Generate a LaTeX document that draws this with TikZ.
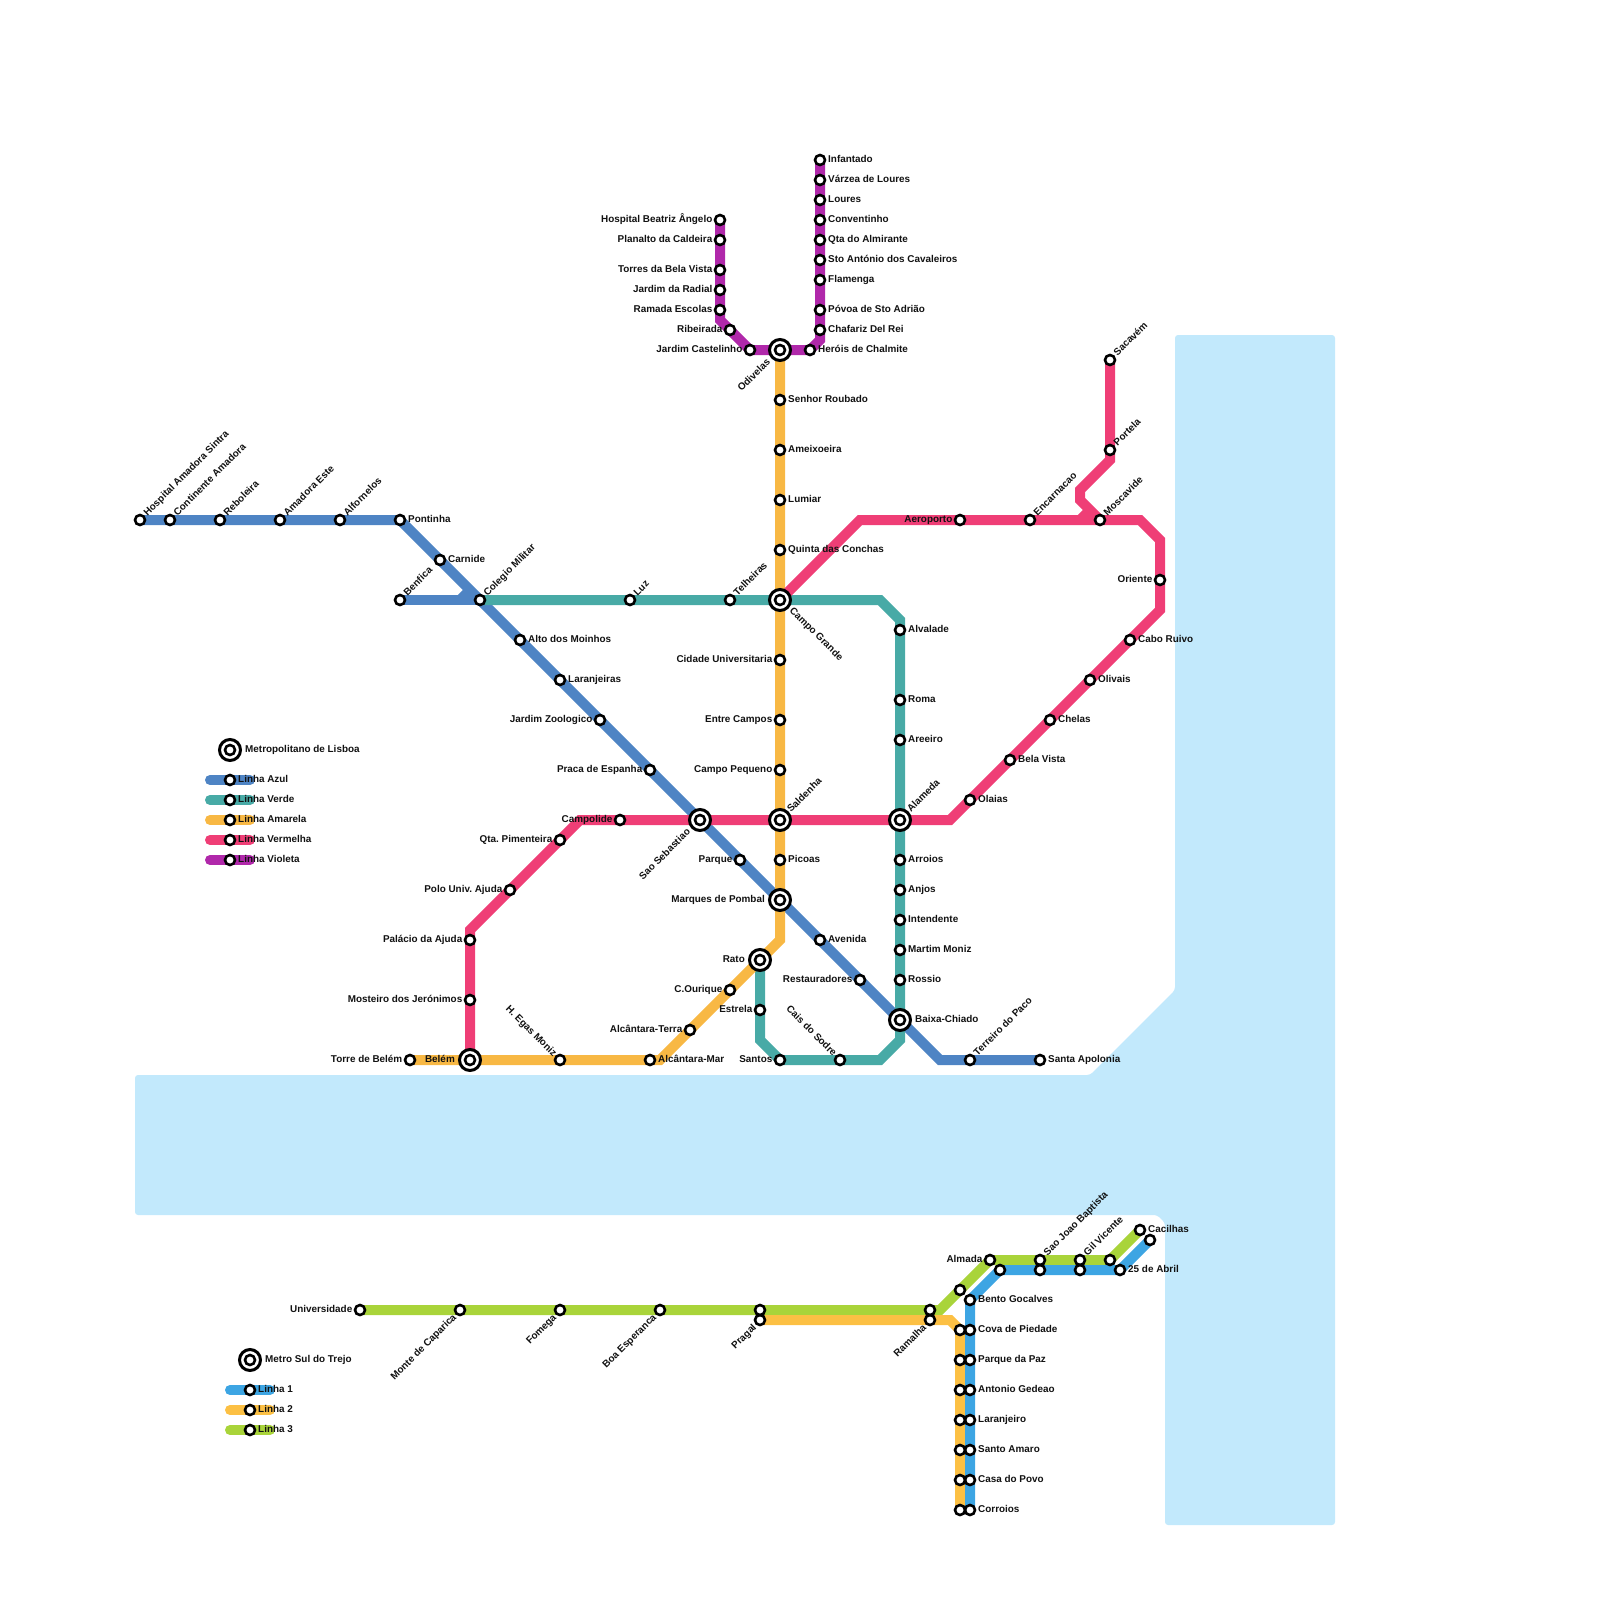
\documentclass[tikz,border=0pt]{standalone}
\usepackage{fontspec}
\setmainfont{Liberation Sans}
\usetikzlibrary{backgrounds}
\definecolor{rio}{RGB}{194, 233, 252}
\definecolor{azul}{RGB}{78, 132, 196}
\definecolor{verde}{RGB}{72, 170, 166}
\definecolor{amarela}{RGB}{248, 184, 68}
\definecolor{vermelha}{RGB}{239, 62, 118}
\definecolor{violeta}{RGB}{176, 40, 170}
\definecolor{sulum}{RGB}{61, 165, 227}
\definecolor{suldois}{RGB}{252, 192, 68}
\definecolor{sultres}{RGB}{169, 212, 58}
\definecolor{tinta}{RGB}{17, 17, 17}

\tikzset{
    linha/.style={line width=10},
    stn/.style={circle, draw=black, fill=white, line width=2.6, minimum size=10, inner sep=0},
    hub/.style={circle, draw=black, fill=white, line width=3, minimum size=21, inner sep=0,
        path picture={\draw[line width=2.6] (path picture bounding box.center) circle (5);}},
    lbl/.style={font=\frenchspacing\bfseries\fontsize{9.9}{12}\selectfont, text=tinta, inner sep=0},
    lblr/.style={lbl, xshift=8, yshift=-2.5, anchor=base west},
    lbll/.style={lbl, xshift=-7.5, yshift=-2.5, anchor=base east},
    lblur/.style={lbl, xshift=7.5, yshift=3.5, rotate=45, anchor=base west},
    lbldl/.style={lbl, xshift=-3, yshift=-8, rotate=45, anchor=base east},
    lblul/.style={lbl, xshift=-7, yshift=3, rotate=-45, anchor=base east},
    hubr/.style={lbl, xshift=15, yshift=-2.5, anchor=base west},
    hubl/.style={lbl, xshift=-15, yshift=-2.5, anchor=base east},
    hubur/.style={lbl, xshift=11, yshift=7, rotate=45, anchor=base west},
    hubdl/.style={lbl, xshift=-9, yshift=-12.5, rotate=45, anchor=base east},
    hubdr/.style={lbl, xshift=9, yshift=-11, rotate=-45, anchor=base west},
}

\begin{document}
\begin{tikzpicture}[x=1pt, y=-1pt]
\useasboundingbox (0,0) rectangle (1600,1600);

% === Rio ===
\begin{pgfonlayer}{background}
    \fill[rio, rounded corners=3] (1175,335) -- (1335,335) -- (1335,1525) -- (1165,1525) -- (1165,1223)
        -- (1157,1215) -- (135,1215) -- (135,1075) -- (1090,1075) -- (1175,990) -- cycle;
\end{pgfonlayer}

% === Estacoes de correspondencia ===
\foreach \nm/\x/\y/\sty/\txt in {
    odivelas/780/350/hubdl/Odivelas,
    campogrande/780/600/hubdr/Campo Grande,
    saosebastiao/700/820/hubdl/Sao Sebastiao,
    saldanha/780/820/hubur/Saldenha,
    alameda/900/820/hubur/Alameda,
    marques/780/900/hubl/Marques de Pombal,
    rato/760/960/hubl/Rato,
    baixa/900/1020/hubr/Baixa-Chiado,
    belem/470/1060/hubl/Belém,
    lisboa/230/750/hubr/Metropolitano de Lisboa,
    trejo/250/1360/hubr/Metro Sul do Trejo} {
    \node[hub] (\nm) at (\x,\y) {};
    \node[\sty] (t\nm) at (\nm.center) {\txt};
}

% === Estacoes com nome ===
\foreach \nm/\x/\y/\sty/\txt in {
    hospital/140/520/lblur/Hospital Amadora Sintra,
    continente/170/520/lblur/Continente Amadora,
    reboleira/220/520/lblur/Reboleira,
    amadoraeste/280/520/lblur/Amadora Este,
    alfornelos/340/520/lblur/Alfornelos,
    pontinha/400/520/lblr/Pontinha,
    carnide/440/560/lblr/Carnide,
    colegio/480/600/lblur/Colegio Militar,
    benfica/400/600/lblur/Benfica,
    moinhos/520/640/lblr/Alto dos Moinhos,
    laranjeiras/560/680/lblr/Laranjeiras,
    zoologico/600/720/lbll/Jardim Zoologico,
    espanha/650/770/lbll/Praca de Espanha,
    parque/740/860/lbll/Parque,
    avenida/820/940/lblr/Avenida,
    restauradores/860/980/lbll/Restauradores,
    terreiro/970/1060/lblur/Terreiro do Paco,
    apolonia/1040/1060/lblr/Santa Apolonia,
    luz/630/600/lblur/Luz,
    telheiras/730/600/lblur/Telheiras,
    alvalade/900/630/lblr/Alvalade,
    roma/900/700/lblr/Roma,
    areeiro/900/740/lblr/Areeiro,
    arroios/900/860/lblr/Arroios,
    anjos/900/890/lblr/Anjos,
    intendente/900/920/lblr/Intendente,
    martim/900/950/lblr/Martim Moniz,
    rossio/900/980/lblr/Rossio,
    cais/840/1060/lblul/Cais do Sodre,
    santos/780/1060/lbll/Santos,
    estrela/760/1010/lbll/Estrela,
    senhor/780/400/lblr/Senhor Roubado,
    ameixoeira/780/450/lblr/Ameixoeira,
    lumiar/780/500/lblr/Lumiar,
    conchas/780/550/lblr/Quinta das Conchas,
    cidade/780/660/lbll/Cidade Universitaria,
    entrecampos/780/720/lbll/Entre Campos,
    campopequeno/780/770/lbll/Campo Pequeno,
    picoas/780/860/lblr/Picoas,
    ourique/730/990/lbll/C.Ourique,
    aterra/690/1030/lbll/Alcântara-Terra,
    amar/650/1060/lblr/Alcântara-Mar,
    egas/560/1060/lblul/H. Egas Moniz,
    torre/410/1060/lbll/Torre de Belém,
    mosteiro/470/1000/lbll/Mosteiro dos Jerónimos,
    palacio/470/940/lbll/Palácio da Ajuda,
    polo/510/890/lbll/Polo Univ. Ajuda,
    pimenteira/560/840/lbll/Qta. Pimenteira,
    campolide/620/820/lbll/Campolide,
    olaias/970/800/lblr/Olaias,
    belavista/1010/760/lblr/Bela Vista,
    chelas/1050/720/lblr/Chelas,
    olivais/1090/680/lblr/Olivais,
    caboruivo/1130/640/lblr/Cabo Ruivo,
    oriente/1160/580/lbll/Oriente,
    moscavide/1100/520/lblur/Moscavide,
    encarnacao/1030/520/lblur/Encarnacao,
    aeroporto/960/520/lbll/Aeroporto,
    portela/1110/450/lblur/Portela,
    sacavem/1110/360/lblur/Sacavém,
    beatriz/720/220/lbll/Hospital Beatriz Ângelo,
    planalto/720/240/lbll/Planalto da Caldeira,
    torres/720/270/lbll/Torres da Bela Vista,
    radial/720/290/lbll/Jardim da Radial,
    ramada/720/310/lbll/Ramada Escolas,
    ribeirada/730/330/lbll/Ribeirada,
    castelinho/750/350/lbll/Jardim Castelinho,
    herois/810/350/lblr/Heróis de Chalmite,
    chafariz/820/330/lblr/Chafariz Del Rei,
    povoa/820/310/lblr/Póvoa de Sto Adrião,
    flamenga/820/280/lblr/Flamenga,
    cavaleiros/820/260/lblr/Sto António dos Cavaleiros,
    almirante/820/240/lblr/Qta do Almirante,
    conventinho/820/220/lblr/Conventinho,
    loures/820/200/lblr/Loures,
    varzea/820/180/lblr/Várzea de Loures,
    infantado/820/160/lblr/Infantado,
    universidade/360/1310/lbll/Universidade,
    caparica/460/1310/lbldl/Monte de Caparica,
    fomega/560/1310/lbldl/Fomega,
    esperanca/660/1310/lbldl/Boa Esperanca,
    pragal/760/1320/lbldl/Pragal,
    ramalha/930/1320/lbldl/Ramalha,
    almada/990/1260/lbll/Almada,
    saojoao/1040/1260/lblur/Sao Joao Baptista,
    gil/1080/1260/lblur/Gil Vicente,
    cacilhas/1140/1230/lblr/Cacilhas,
    abril/1120/1270/lblr/25 de Abril,
    bento/970/1300/lblr/Bento Gocalves,
    cova/970/1330/lblr/Cova de Piedade,
    paz/970/1360/lblr/Parque da Paz,
    gedeao/970/1390/lblr/Antonio Gedeao,
    laranjeiro/970/1420/lblr/Laranjeiro,
    amaro/970/1450/lblr/Santo Amaro,
    povo/970/1480/lblr/Casa do Povo,
    corroios/970/1510/lblr/Corroios} {
    \node[stn] (\nm) at (\x,\y) {};
    \node[\sty] (t\nm) at (\nm.center) {\txt};
}

% === Estacoes sem nome ===
\foreach \nm/\x/\y in {
    pragalb/760/1310, ramalhab/930/1310, sa/960/1290, sb/1110/1260,
    sc/1000/1270, sd/1150/1240, saojoaob/1040/1270, gilb/1080/1270,
    y1/960/1330, y2/960/1360, y3/960/1390, y4/960/1420, y5/960/1450, y6/960/1480, y7/960/1510} {
    \node[stn] (\nm) at (\x,\y) {};
}

% Pontos de curva
\coordinate (az1) at (940,1060);
\coordinate (bf1) at (460,600);
\coordinate (bf2) at (470,590);
\coordinate (vd1) at (880,600);
\coordinate (vd2) at (900,620);
\coordinate (vd3) at (900,1040);
\coordinate (vd4) at (880,1060);
\coordinate (vd5) at (760,1040);
\coordinate (am1) at (780,940);
\coordinate (am2) at (660,1060);
\coordinate (vm1) at (470,930);
\coordinate (vm2) at (580,820);
\coordinate (vm3) at (950,820);
\coordinate (vm4) at (1160,610);
\coordinate (vm5) at (1160,540);
\coordinate (vm6) at (1140,520);
\coordinate (vm7) at (860,520);
\coordinate (vm8) at (1110,460);
\coordinate (vm9) at (1080,490);
\coordinate (vm10) at (1080,500);
\coordinate (vm11) at (1090,510);
\coordinate (vm12) at (1080,520);
\coordinate (vi1) at (720,320);
\coordinate (vi2) at (820,340);
\coordinate (st1) at (940,1310);
\coordinate (sd1) at (950,1320);

% === Linhas ===
\begin{pgfonlayer}{background}
    \draw[linha, azul] (hospital.center) -- (continente.center) -- (reboleira.center) -- (amadoraeste.center)
        -- (alfornelos.center) -- (pontinha.center) -- (carnide.center) -- (colegio.center) -- (moinhos.center)
        -- (laranjeiras.center) -- (zoologico.center) -- (espanha.center) -- (saosebastiao.center) -- (parque.center)
        -- (marques.center) -- (avenida.center) -- (restauradores.center) -- (baixa.center) -- (az1)
        -- (terreiro.center) -- (apolonia.center);
    \draw[linha, azul] (benfica.center) -- (colegio.center);
    \draw[linha, azul] (bf1) -- (bf2);

    \draw[linha, verde] (colegio.center) -- (luz.center) -- (telheiras.center) -- (campogrande.center) -- (vd1) -- (vd2)
        -- (alvalade.center) -- (roma.center) -- (areeiro.center) -- (alameda.center) -- (arroios.center)
        -- (anjos.center) -- (intendente.center) -- (martim.center) -- (rossio.center) -- (baixa.center) -- (vd3)
        -- (vd4) -- (cais.center) -- (santos.center) -- (vd5) -- (estrela.center) -- (rato.center);

    \draw[linha, amarela] (odivelas.center) -- (senhor.center) -- (ameixoeira.center) -- (lumiar.center)
        -- (conchas.center) -- (campogrande.center) -- (cidade.center) -- (entrecampos.center) -- (campopequeno.center)
        -- (saldanha.center) -- (picoas.center) -- (marques.center) -- (am1) -- (rato.center) -- (ourique.center)
        -- (aterra.center) -- (am2) -- (amar.center) -- (egas.center) -- (belem.center) -- (torre.center);

    \draw[linha, vermelha] (belem.center) -- (mosteiro.center) -- (palacio.center) -- (vm1) -- (polo.center)
        -- (pimenteira.center) -- (vm2) -- (campolide.center) -- (saosebastiao.center) -- (saldanha.center)
        -- (alameda.center) -- (vm3) -- (olaias.center) -- (belavista.center) -- (chelas.center) -- (olivais.center)
        -- (caboruivo.center) -- (vm4) -- (oriente.center) -- (vm5) -- (vm6) -- (moscavide.center)
        -- (encarnacao.center) -- (aeroporto.center) -- (vm7) -- (campogrande.center);
    \draw[linha, vermelha] (sacavem.center) -- (portela.center) -- (vm8) -- (vm9) -- (vm10) -- (moscavide.center);
    \draw[linha, vermelha] (vm12) -- (vm11);

    \draw[linha, violeta] (beatriz.center) -- (planalto.center) -- (torres.center) -- (radial.center) -- (ramada.center)
        -- (vi1) -- (ribeirada.center) -- (castelinho.center) -- (odivelas.center) -- (herois.center) -- (vi2)
        -- (chafariz.center) -- (povoa.center) -- (flamenga.center) -- (cavaleiros.center) -- (almirante.center)
        -- (conventinho.center) -- (loures.center) -- (varzea.center) -- (infantado.center);

    \draw[linha, sultres] (universidade.center) -- (caparica.center) -- (fomega.center) -- (esperanca.center)
        -- (pragalb.center) -- (ramalhab.center) -- (st1) -- (sa.center) -- (almada.center) -- (saojoao.center)
        -- (gil.center) -- (sb.center) -- (cacilhas.center);
    \draw[linha, suldois] (pragal.center) -- (ramalha.center) -- (sd1) -- (y1.center) -- (y7.center);
    \draw[linha, sulum] (corroios.center) -- (bento.center) -- (sc.center) -- (saojoaob.center) -- (gilb.center)
        -- (abril.center) -- (sd.center);
\end{pgfonlayer}

% === Legendas ===
\foreach \col/\xa/\y/\txt in {
    azul/230/780/Linha Azul,
    verde/230/800/Linha Verde,
    amarela/230/820/Linha Amarela,
    vermelha/230/840/Linha Vermelha,
    violeta/230/860/Linha Violeta,
    sulum/250/1390/Linha 1,
    suldois/250/1410/Linha 2,
    sultres/250/1430/Linha 3} {
    \node[stn] (leg\y) at (\xa,\y) {};
    \node[lblr] (tleg\y) at (leg\y.center) {\txt};
    \coordinate (lega\y) at (\xa-20,\y);
    \coordinate (legb\y) at (\xa+20,\y);
    \begin{pgfonlayer}{background}
        \draw[linha, \col, line cap=round] (lega\y) -- (legb\y);
    \end{pgfonlayer}
}

\end{tikzpicture}
\end{document}
